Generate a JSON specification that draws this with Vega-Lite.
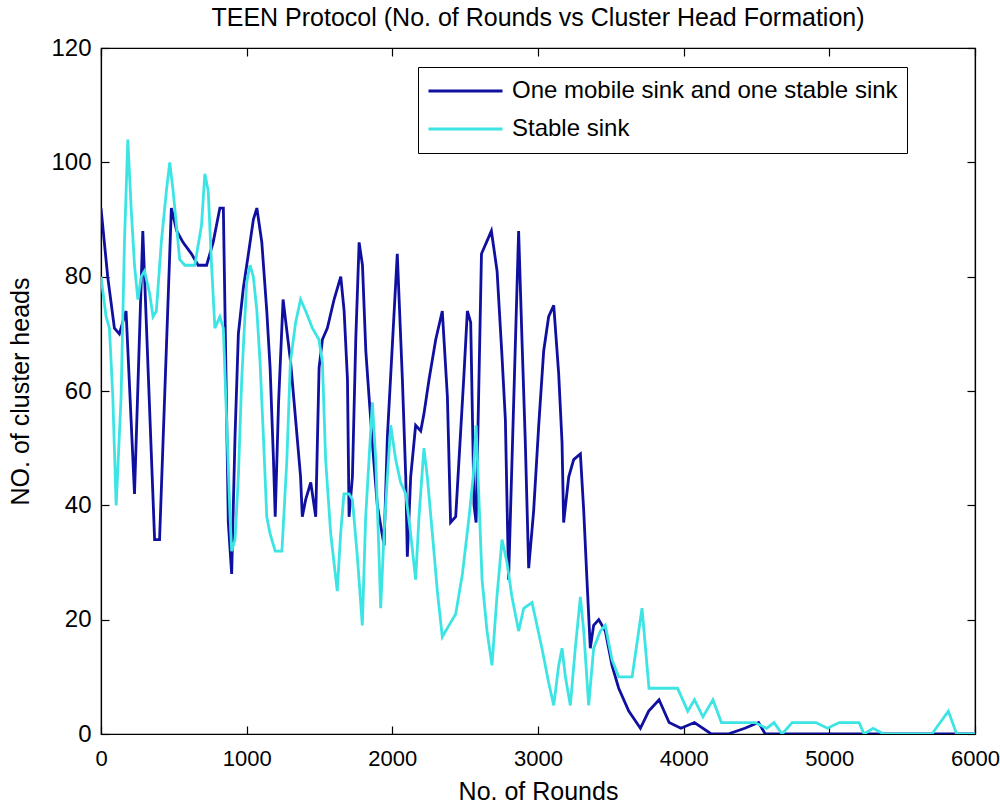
{
  "$schema": "https://vega.github.io/schema/vega-lite/v6.json",
  "autosize": "none",
  "width": 874,
  "height": 686,
  "padding": {"left": 101, "top": 48, "right": 25, "bottom": 72},
  "background": "white",
  "config": {
    "font": "Liberation Sans",
    "view": {"stroke": "black", "strokeWidth": 1.2},
    "axis": {"grid": false, "domainColor": "black", "tickColor": "black", "labelColor": "black", "titleColor": "black", "labelFont": "Liberation Sans", "titleFont": "Liberation Sans", "labelFontSize": 24, "titleFontSize": 25, "titleFontWeight": "normal", "tickSize": -8, "labelPadding": 21, "domainWidth": 1.2, "tickWidth": 1.2, "format": "d", "labelFlush": false},
    "legend": {"labelFont": "Liberation Sans", "labelFontSize": 24, "labelColor": "black", "labelLimit": 0}
  },
  "title": {"text": "TEEN Protocol (No. of Rounds vs Cluster Head Formation)", "fontSize": 25, "fontWeight": "normal", "font": "Liberation Sans", "color": "black", "anchor": "middle", "baseline": "alphabetic", "offset": 16, "dy": 31},
  "datasets": {
    "mobile": [
      {"round": 0, "heads": 92}, {"round": 46, "heads": 80}, {"round": 92, "heads": 71}, {"round": 126, "heads": 70}, {"round": 172, "heads": 74}, {"round": 230, "heads": 42}, {"round": 287, "heads": 88}, {"round": 368, "heads": 34}, {"round": 402, "heads": 34}, {"round": 483, "heads": 92}, {"round": 520, "heads": 88}, {"round": 563, "heads": 86}, {"round": 621, "heads": 84}, {"round": 667, "heads": 82}, {"round": 725, "heads": 82}, {"round": 770, "heads": 86}, {"round": 816, "heads": 92}, {"round": 840, "heads": 92}, {"round": 874, "heads": 37}, {"round": 897, "heads": 28}, {"round": 920, "heads": 52}, {"round": 943, "heads": 70}, {"round": 977, "heads": 78}, {"round": 1012, "heads": 84}, {"round": 1046, "heads": 90}, {"round": 1070, "heads": 92}, {"round": 1104, "heads": 86}, {"round": 1138, "heads": 74}, {"round": 1161, "heads": 64}, {"round": 1184, "heads": 48}, {"round": 1196, "heads": 38}, {"round": 1219, "heads": 58}, {"round": 1250, "heads": 76}, {"round": 1302, "heads": 65}, {"round": 1336, "heads": 55}, {"round": 1370, "heads": 45}, {"round": 1382, "heads": 38}, {"round": 1405, "heads": 41}, {"round": 1440, "heads": 44}, {"round": 1474, "heads": 38}, {"round": 1497, "heads": 64}, {"round": 1520, "heads": 69}, {"round": 1554, "heads": 71}, {"round": 1600, "heads": 76}, {"round": 1646, "heads": 80}, {"round": 1669, "heads": 74}, {"round": 1692, "heads": 62}, {"round": 1703, "heads": 38}, {"round": 1726, "heads": 45}, {"round": 1749, "heads": 69}, {"round": 1772, "heads": 86}, {"round": 1795, "heads": 82}, {"round": 1818, "heads": 67}, {"round": 1840, "heads": 59}, {"round": 1875, "heads": 47}, {"round": 1897, "heads": 40}, {"round": 1943, "heads": 33}, {"round": 1966, "heads": 52}, {"round": 2034, "heads": 84}, {"round": 2069, "heads": 62}, {"round": 2092, "heads": 45}, {"round": 2103, "heads": 31}, {"round": 2126, "heads": 45}, {"round": 2160, "heads": 54}, {"round": 2195, "heads": 53}, {"round": 2217, "heads": 56}, {"round": 2252, "heads": 62}, {"round": 2298, "heads": 69}, {"round": 2343, "heads": 74}, {"round": 2378, "heads": 59}, {"round": 2400, "heads": 37}, {"round": 2435, "heads": 38}, {"round": 2492, "heads": 63}, {"round": 2515, "heads": 74}, {"round": 2538, "heads": 72}, {"round": 2561, "heads": 40}, {"round": 2575, "heads": 37}, {"round": 2612, "heads": 84}, {"round": 2646, "heads": 86}, {"round": 2680, "heads": 88}, {"round": 2719, "heads": 81}, {"round": 2753, "heads": 66}, {"round": 2776, "heads": 55}, {"round": 2798, "heads": 27}, {"round": 2867, "heads": 88}, {"round": 2890, "heads": 69}, {"round": 2913, "heads": 51}, {"round": 2936, "heads": 29}, {"round": 2970, "heads": 39}, {"round": 3005, "heads": 54}, {"round": 3039, "heads": 67}, {"round": 3073, "heads": 73}, {"round": 3108, "heads": 75}, {"round": 3142, "heads": 63}, {"round": 3165, "heads": 51}, {"round": 3176, "heads": 37}, {"round": 3211, "heads": 45}, {"round": 3245, "heads": 48}, {"round": 3291, "heads": 49}, {"round": 3314, "heads": 39}, {"round": 3336, "heads": 27}, {"round": 3359, "heads": 15}, {"round": 3382, "heads": 19}, {"round": 3417, "heads": 20}, {"round": 3462, "heads": 18}, {"round": 3508, "heads": 12}, {"round": 3554, "heads": 8}, {"round": 3623, "heads": 4}, {"round": 3703, "heads": 1}, {"round": 3760, "heads": 4}, {"round": 3831, "heads": 6}, {"round": 3900, "heads": 2}, {"round": 3981, "heads": 1}, {"round": 4074, "heads": 2}, {"round": 4190, "heads": 0}, {"round": 4305, "heads": 0}, {"round": 4420, "heads": 1}, {"round": 4514, "heads": 2}, {"round": 4560, "heads": 0}, {"round": 6000, "heads": 0}
    ],
    "stable": [
      {"round": 0, "heads": 80}, {"round": 35, "heads": 73}, {"round": 58, "heads": 71}, {"round": 81, "heads": 59}, {"round": 104, "heads": 40}, {"round": 138, "heads": 59}, {"round": 161, "heads": 86}, {"round": 184, "heads": 104}, {"round": 207, "heads": 92}, {"round": 230, "heads": 82}, {"round": 253, "heads": 76}, {"round": 276, "heads": 80}, {"round": 299, "heads": 81}, {"round": 334, "heads": 77}, {"round": 357, "heads": 73}, {"round": 380, "heads": 74}, {"round": 414, "heads": 86}, {"round": 449, "heads": 95}, {"round": 472, "heads": 100}, {"round": 495, "heads": 95}, {"round": 518, "heads": 89}, {"round": 540, "heads": 83}, {"round": 575, "heads": 82}, {"round": 644, "heads": 82}, {"round": 690, "heads": 89}, {"round": 713, "heads": 98}, {"round": 736, "heads": 95}, {"round": 759, "heads": 82}, {"round": 782, "heads": 71}, {"round": 816, "heads": 73}, {"round": 840, "heads": 71}, {"round": 886, "heads": 38}, {"round": 897, "heads": 32}, {"round": 920, "heads": 34}, {"round": 943, "heads": 45}, {"round": 966, "heads": 62}, {"round": 1000, "heads": 79}, {"round": 1023, "heads": 82}, {"round": 1046, "heads": 80}, {"round": 1070, "heads": 74}, {"round": 1092, "heads": 65}, {"round": 1115, "heads": 52}, {"round": 1138, "heads": 38}, {"round": 1161, "heads": 35}, {"round": 1196, "heads": 32}, {"round": 1242, "heads": 32}, {"round": 1276, "heads": 48}, {"round": 1300, "heads": 65}, {"round": 1336, "heads": 72}, {"round": 1370, "heads": 76}, {"round": 1405, "heads": 74}, {"round": 1451, "heads": 71}, {"round": 1496, "heads": 69}, {"round": 1520, "heads": 65}, {"round": 1542, "heads": 48}, {"round": 1577, "heads": 35}, {"round": 1622, "heads": 25}, {"round": 1645, "heads": 35}, {"round": 1668, "heads": 42}, {"round": 1703, "heads": 42}, {"round": 1726, "heads": 41}, {"round": 1760, "heads": 31}, {"round": 1794, "heads": 19}, {"round": 1817, "heads": 38}, {"round": 1840, "heads": 48}, {"round": 1863, "heads": 58}, {"round": 1886, "heads": 48}, {"round": 1909, "heads": 31}, {"round": 1920, "heads": 22}, {"round": 1943, "heads": 35}, {"round": 1966, "heads": 45}, {"round": 1989, "heads": 54}, {"round": 2023, "heads": 48}, {"round": 2057, "heads": 44}, {"round": 2092, "heads": 42}, {"round": 2126, "heads": 35}, {"round": 2160, "heads": 27}, {"round": 2183, "heads": 38}, {"round": 2217, "heads": 50}, {"round": 2240, "heads": 45}, {"round": 2275, "heads": 35}, {"round": 2309, "heads": 25}, {"round": 2343, "heads": 17}, {"round": 2389, "heads": 19}, {"round": 2435, "heads": 21}, {"round": 2481, "heads": 28}, {"round": 2527, "heads": 38}, {"round": 2555, "heads": 45}, {"round": 2575, "heads": 54}, {"round": 2616, "heads": 27}, {"round": 2650, "heads": 18}, {"round": 2684, "heads": 12}, {"round": 2718, "heads": 24}, {"round": 2753, "heads": 34}, {"round": 2787, "heads": 30}, {"round": 2821, "heads": 24}, {"round": 2867, "heads": 18}, {"round": 2902, "heads": 22}, {"round": 2959, "heads": 23}, {"round": 3027, "heads": 15}, {"round": 3073, "heads": 9}, {"round": 3108, "heads": 5}, {"round": 3142, "heads": 12}, {"round": 3165, "heads": 15}, {"round": 3188, "heads": 10}, {"round": 3222, "heads": 5}, {"round": 3256, "heads": 15}, {"round": 3291, "heads": 24}, {"round": 3314, "heads": 18}, {"round": 3348, "heads": 5}, {"round": 3382, "heads": 15}, {"round": 3428, "heads": 18}, {"round": 3462, "heads": 19}, {"round": 3508, "heads": 13}, {"round": 3554, "heads": 10}, {"round": 3646, "heads": 10}, {"round": 3714, "heads": 22}, {"round": 3762, "heads": 8}, {"round": 3958, "heads": 8}, {"round": 4028, "heads": 4}, {"round": 4074, "heads": 6}, {"round": 4132, "heads": 3}, {"round": 4201, "heads": 6}, {"round": 4259, "heads": 2}, {"round": 4490, "heads": 2}, {"round": 4570, "heads": 1}, {"round": 4620, "heads": 2}, {"round": 4676, "heads": 0}, {"round": 4745, "heads": 2}, {"round": 4907, "heads": 2}, {"round": 4988, "heads": 1}, {"round": 5068, "heads": 2}, {"round": 5136, "heads": 2}, {"round": 5204, "heads": 2}, {"round": 5238, "heads": 0}, {"round": 5300, "heads": 1}, {"round": 5375, "heads": 0}, {"round": 5704, "heads": 0}, {"round": 5817, "heads": 4}, {"round": 5874, "heads": 0}, {"round": 6000, "heads": 0}
    ]
  },
  "resolve": {"scale": {"x": "shared", "y": "shared"}, "axis": {"x": "independent", "y": "independent"}},
  "layer": [
    {
      "data": {"name": "mobile"},
      "mark": {"type": "line", "strokeWidth": 2.8, "clip": true},
      "encoding": {
        "x": {"field": "round", "type": "quantitative", "scale": {"domain": [0, 6000], "nice": false}, "axis": {"orient": "bottom", "title": "No. of Rounds", "values": [0, 1000, 2000, 3000, 4000, 5000, 6000], "labelFontSize": 22, "labelPadding": 22, "titlePadding": 10}},
        "y": {"field": "heads", "type": "quantitative", "scale": {"domain": [0, 120], "nice": false}, "axis": {"orient": "left", "title": "NO. of cluster heads", "values": [0, 20, 40, 60, 80, 100, 120], "labelPadding": 18, "titlePadding": 17}},
        "color": {"datum": "One mobile sink and one stable sink", "type": "nominal", "scale": {"domain": ["One mobile sink and one stable sink", "Stable sink"], "range": ["#0f0fa0", "#3de4e4"]}, "legend": {"title": null, "orient": "none", "legendX": 317, "legendY": 19, "symbolType": "stroke", "symbolSize": 5476, "symbolStrokeWidth": 3, "fillColor": "white", "strokeColor": "black", "padding": 9, "clipHeight": 30, "rowPadding": 8, "labelOffset": 8}}
      }
    },
    {
      "data": {"name": "stable"},
      "mark": {"type": "line", "strokeWidth": 2.8, "clip": true},
      "encoding": {
        "x": {"field": "round", "type": "quantitative", "axis": null},
        "y": {"field": "heads", "type": "quantitative", "axis": null},
        "color": {"datum": "Stable sink", "type": "nominal"}
      }
    },
    {
      "data": {"name": "stable"},
      "mark": {"type": "line", "strokeOpacity": 0},
      "encoding": {
        "x": {"field": "round", "type": "quantitative", "axis": {"orient": "top", "title": null, "labels": false, "values": [0, 1000, 2000, 3000, 4000, 5000, 6000]}},
        "y": {"field": "heads", "type": "quantitative", "axis": {"orient": "right", "title": null, "labels": false, "values": [0, 20, 40, 60, 80, 100, 120]}}
      }
    }
  ]
}
